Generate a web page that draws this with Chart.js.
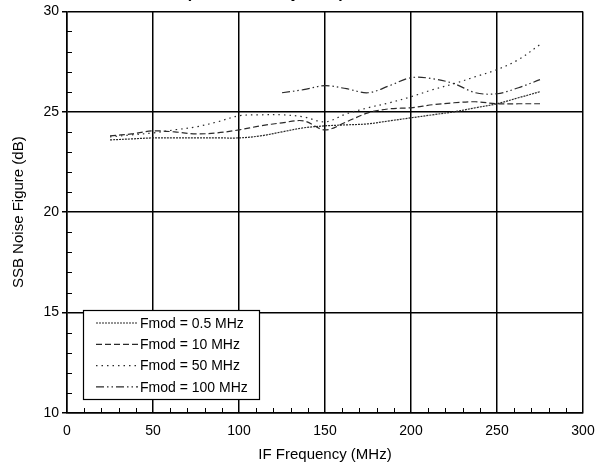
<!DOCTYPE html>
<html lang="en">
<head>
<meta charset="utf-8" />
<title>SSB Noise Figure vs IF Frequency</title>
<script src="https://cdn.jsdelivr.net/npm/chart.js@4.4.1/dist/chart.umd.min.js"></script>
<style>
  html, body { margin: 0; padding: 0; background: #fff; }
  #wrap { position: relative; width: 605px; height: 468px; }
</style>
</head>
<body>
<div id="wrap"><canvas id="chart" width="605" height="468"></canvas></div>
<script>
// IF frequency points (MHz)
const freqs = [25, 37.5, 50, 62.5, 75, 87.5, 100, 112.5, 125, 137.5, 150, 162.5, 175, 187.5, 200, 212.5, 225, 237.5, 250, 262.5, 275];

// SSB noise figure (dB) per modulation frequency
const nf05 = [23.6, 23.65, 23.7, 23.7, 23.7, 23.7, 23.7, 23.8, 24.0, 24.2, 24.3, 24.35, 24.4, 24.55, 24.7, 24.85, 25.0, 25.2, 25.4, 25.7, 26.0];
const nf10 = [23.8, 23.9, 24.05, 24.0, 23.9, 23.95, 24.1, 24.3, 24.45, 24.55, 24.1, 24.5, 24.95, 25.15, 25.2, 25.35, 25.45, 25.5, 25.4, 25.4, 25.4];
const nf50 = [23.75, 23.85, 23.95, 24.1, 24.25, 24.5, 24.8, 24.85, 24.85, 24.75, 24.5, 24.9, 25.2, 25.45, 25.75, 26.1, 26.4, 26.75, 27.1, 27.6, 28.35];
const nf100 = [null, null, null, null, null, null, null, null, 25.95, 26.1, 26.3, 26.15, 25.95, 26.3, 26.7, 26.65, 26.4, 25.95, 25.9, 26.2, 26.6];

const seriesLabels = ["Fmod = 0.5 MHz", "Fmod = 10 MHz", "Fmod = 50 MHz", "Fmod = 100 MHz"];
const seriesValues = [nf05, nf10, nf50, nf100];
const seriesDash = [[2, 1], [6, 3], [1.5, 4], [8, 3, 1.5, 3, 1.5, 3]];

const xTicks = [0, 50, 100, 150, 200, 250, 300];
const yTicks = [10, 15, 20, 25, 30];

const FONT = "'Liberation Sans', Arial, Helvetica, sans-serif";
const LINE = "#2a2a2a";

const datasets = seriesValues.map((vals, i) => ({
  label: seriesLabels[i],
  data: freqs.map((f, j) => ({ x: f, y: vals[j] })),
  borderColor: LINE,
  borderWidth: 1.2,
  borderDash: seriesDash[i],
  pointRadius: 0,
  tension: 0.35,
  fill: false,
  spanGaps: false,
}));

// minor inward ticks, clipped title and in-plot legend
const extrasPlugin = {
  id: "extras",
  afterDraw(chart) {
    const ctx = chart.ctx;
    const xs = chart.scales.x, ys = chart.scales.y;
    const area = chart.chartArea;
    ctx.save();
    ctx.strokeStyle = "#000";
    ctx.lineWidth = 1;
    ctx.beginPath();
    for (let v = 10; v < 300; v += 10) {
      if (v % 50 === 0) continue;
      const px = Math.round(xs.getPixelForValue(v)) + 0.5;
      ctx.moveTo(px, area.bottom);
      ctx.lineTo(px, area.bottom - 5);
    }
    for (let v = 11; v < 30; v += 1) {
      if (v % 5 === 0) continue;
      const py = Math.round(ys.getPixelForValue(v)) + 0.5;
      ctx.moveTo(area.left, py);
      ctx.lineTo(area.left + 5, py);
    }
    ctx.stroke();

    // title, almost entirely above the visible page
    ctx.fillStyle = "#000";
    ctx.font = "bold 16px " + FONT;
    ctx.textAlign = "left";
    ctx.textBaseline = "alphabetic";
    ctx.fillText("(LO Power Adjusted)", 186, -2.5);

    // legend box
    const bx = 83, by = 310, bw = 176, bh = 89;
    ctx.fillStyle = "#fff";
    ctx.fillRect(bx, by, bw, bh);
    ctx.strokeStyle = "#000";
    ctx.lineWidth = 1.2;
    ctx.strokeRect(bx + 0.5, by + 0.5, bw, bh);
    ctx.font = "14px " + FONT;
    ctx.textBaseline = "middle";
    seriesLabels.forEach((lab, i) => {
      const y = by + 13 + i * 21.3;
      ctx.save();
      ctx.setLineDash(seriesDash[i]);
      ctx.lineWidth = 1.2;
      ctx.strokeStyle = LINE;
      ctx.beginPath();
      ctx.moveTo(96, y);
      ctx.lineTo(138, y);
      ctx.stroke();
      ctx.restore();
      ctx.fillStyle = "#000";
      ctx.fillText(lab, 140, y + 1);
    });
    ctx.restore();
  },
};

new Chart(document.getElementById("chart"), {
  type: "line",
  data: { datasets },
  plugins: [extrasPlugin],
  options: {
    responsive: false,
    animation: false,
    devicePixelRatio: 1,
    layout: { padding: { top: 10, right: 22, left: 0, bottom: 0 } },
    plugins: {
      legend: { display: false },
      tooltip: { enabled: false },
      title: { display: false },
    },
    scales: {
      x: {
        type: "linear",
        min: 0,
        max: 300,
        afterFit(s) { s.height = 55; },
        afterBuildTicks(s) { s.ticks = xTicks.map((v) => ({ value: v })); },
        grid: { color: "#000", lineWidth: 1.5, drawTicks: false },
        border: { color: "#000", width: 1.5 },
        ticks: { color: "#000", font: { family: FONT, size: 14 }, padding: 10, maxRotation: 0 },
        title: { display: true, text: "IF Frequency (MHz)", color: "#000", font: { family: FONT, size: 15 }, padding: { top: 3 } },
      },
      y: {
        type: "linear",
        min: 10,
        max: 30,
        afterFit(s) { s.width = 67; },
        afterBuildTicks(s) { s.ticks = yTicks.map((v) => ({ value: v })); },
        grid: { color: "#000", lineWidth: 1.5, tickLength: 5 },
        border: { color: "#000", width: 1.5 },
        ticks: { color: "#000", font: { family: FONT, size: 14 }, padding: 3 },
        title: { display: true, text: "SSB Noise Figure (dB)", color: "#000", font: { family: FONT, size: 15 }, padding: { top: 10, bottom: 0 } },
      },
    },
  },
});
</script>
</body>
</html>
